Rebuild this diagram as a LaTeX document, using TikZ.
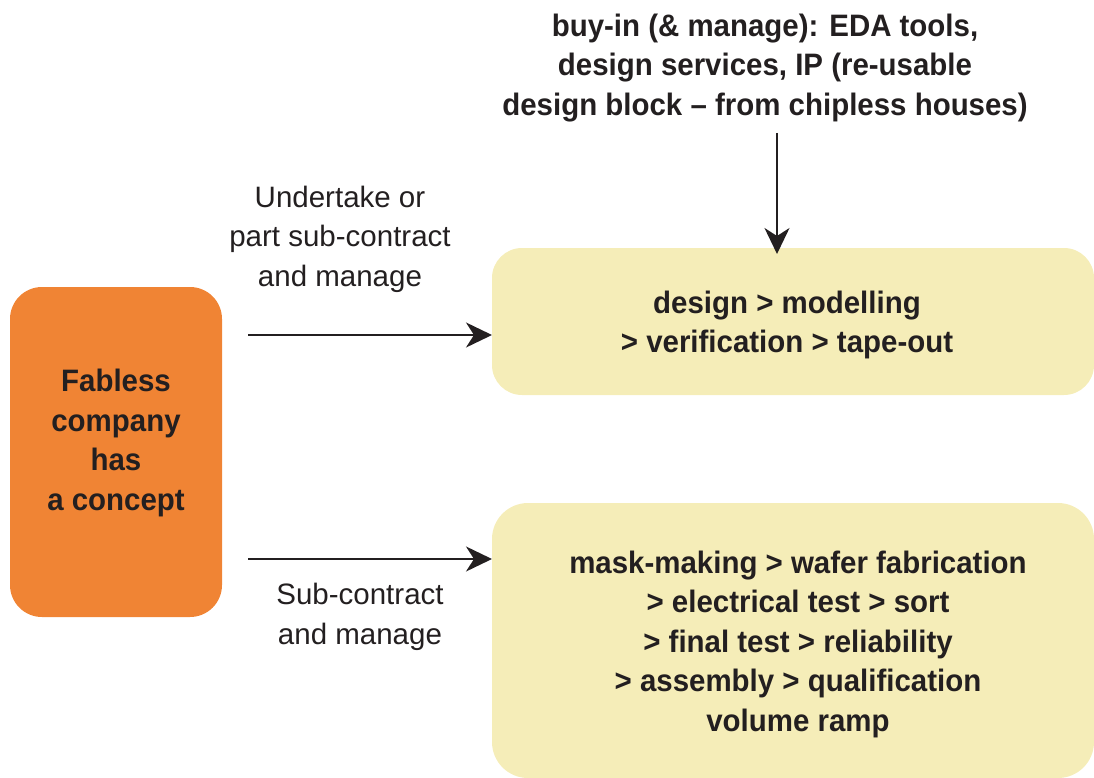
\documentclass[tikz,border=0pt]{standalone}
\usepackage{fontspec}
\setmainfont{Liberation Sans}[FakeStretch=0.95]
\newfontfamily\labelfont{Liberation Sans}
\usetikzlibrary{arrows.meta}
\definecolor{orangebox}{HTML}{F08434}
\definecolor{yellowbox}{HTML}{F5EDB8}
\definecolor{ink}{HTML}{231F20}
\tikzset{
  boxtext/.style={font=\fontsize{31}{39.5}\selectfont\bfseries, text=ink, align=center},
  labeltext/.style={font=\labelfont\fontsize{29.5}{39.5}\selectfont, text=ink, align=center},
  arr/.style={line width=2pt, draw=ink, -{Stealth[length=26pt,width=25pt,inset=8pt]}},
}
\begin{document}
\begin{tikzpicture}[x=1pt,y=-1pt]
\useasboundingbox (0,0) rectangle (1094,778);
\fill[orangebox, rounded corners=32pt] (10,287) rectangle (222,617);
\node[boxtext] (fab) at (116,443) {Fabless\\company\\has\\a concept};
\fill[yellowbox, rounded corners=30pt] (492,248) rectangle (1094,395);
\node[boxtext] (top) at (787,325) {design > modelling\\> verification > tape-out};
\fill[yellowbox, rounded corners=36pt] (492,503) rectangle (1094,778);
\node[boxtext] (bot) at (798,644) {mask-making > wafer fabrication\\> electrical test > sort\\> final test > reliability\\> assembly > qualification\\volume ramp};
\node[boxtext] (buy) at (765,68) {buy-in (\& manage): EDA tools,\\design services, IP (re-usable\\design block -- from chipless houses)};
\node[labeltext] (l1) at (340,239) {Undertake or\\part sub-contract\\and manage};
\node[labeltext] (l2) at (360,617) {Sub-contract\\and manage};
\coordinate (topw) at (492,335);
\coordinate (botw) at (492,559);
\coordinate (topn) at (777,254);
\draw[arr] (248,335) -- (topw);
\draw[arr] (248,559) -- (botw);
\draw[arr] (777,133) -- (topn);
\end{tikzpicture}
\end{document}
